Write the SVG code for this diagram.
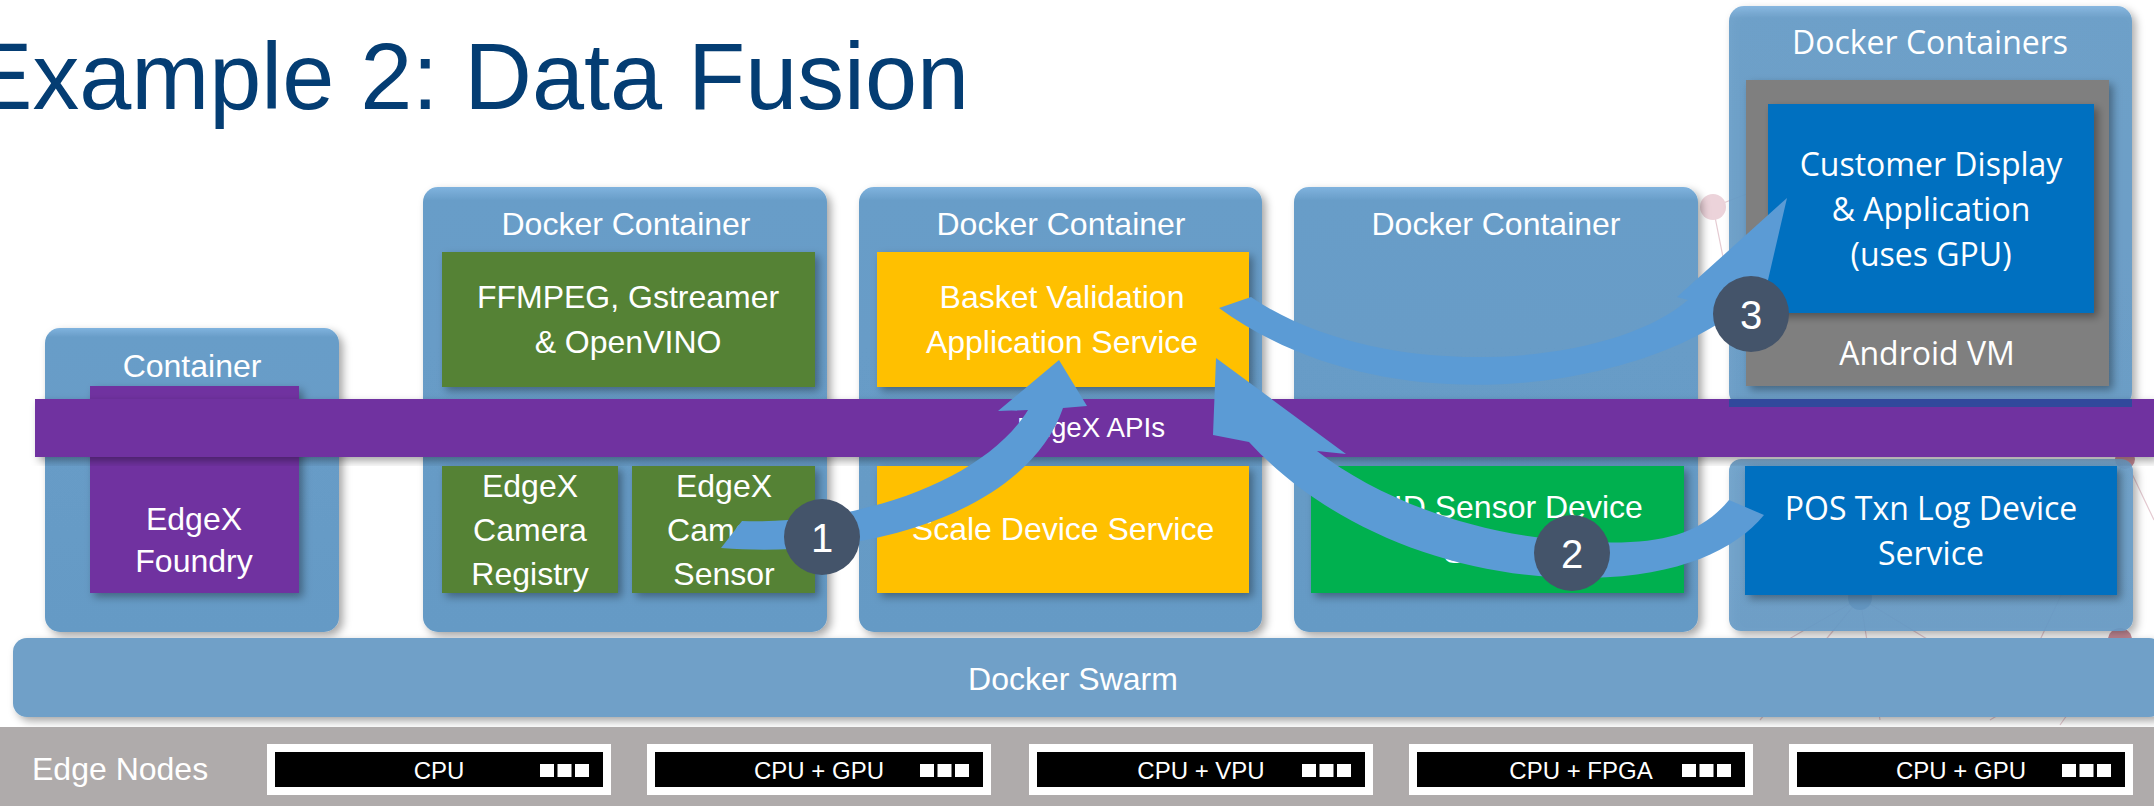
<svg xmlns="http://www.w3.org/2000/svg" width="2154" height="806" viewBox="0 0 2154 806">
<defs>
<filter id="sh" x="-10%" y="-10%" width="125%" height="125%">
<feDropShadow dx="4" dy="4" stdDeviation="4" flood-color="#000" flood-opacity="0.35"/>
</filter>
<linearGradient id="cg" x1="0" y1="0" x2="0" y2="1">
<stop offset="0" stop-color="#80b3de"/>
<stop offset="0.03" stop-color="#689dc8"/>
<stop offset="1" stop-color="#659ac5"/>
</linearGradient>
<style>
.cont{fill:url(#cg);filter:url(#sh)}
.box{filter:url(#sh)}
.t{font-family:"Liberation Sans",Arial,sans-serif;font-size:32px;fill:#fff;text-anchor:middle}
.o{font-family:"Open Sans","Liberation Sans",sans-serif;font-size:32px;fill:#fff;text-anchor:middle}
.n{font-family:"Liberation Sans",Arial,sans-serif;font-size:24px;fill:#fff;text-anchor:middle}
.arrow{fill:#5b9bd5}
.num{fill:#44546a}
.nt{font-family:"Liberation Sans",Arial,sans-serif;font-size:40px;fill:#fff;text-anchor:middle}
.sq{fill:#fff}
.net{stroke:#d8b3bd;stroke-width:1.2;fill:none;opacity:0.7}
</style>
</defs>
<rect width="2154" height="806" fill="#fff"/>

<g id="background-network">
<path class="net" d="M1713,207 L1762,188 M1713,207 L1724,262 M1860,598 L1770,650 M1860,598 L1790,470 M1860,598 L1945,650 M1860,598 L2010,470 M1860,598 L1880,720 M2120,640 L2060,725 M2120,640 L2154,700 M2125,459 L2154,520 M2125,459 L2040,640 M1990,720 L2120,640 M1760,720 L1860,598"/>
<circle cx="1713" cy="207" r="13" fill="#ecd3da"/>
<circle cx="1860" cy="598" r="12" fill="#4b6ea0"/>
<circle cx="2120" cy="640" r="12" fill="#c98c99"/>
<circle cx="2125" cy="459" r="10" fill="#c98c99"/>
</g>

<text x="-30" y="109" font-family="Liberation Sans, Arial, sans-serif" font-size="94" fill="#043d73" textLength="999" lengthAdjust="spacingAndGlyphs">Example 2: Data Fusion</text>

<g id="container-edgex">
<rect class="cont" x="45" y="328" width="294" height="304" rx="15"/>
<text class="t" x="192" y="377">Container</text>
</g>
<g id="docker-container-1">
<rect class="cont" x="423" y="187" width="404" height="445" rx="15"/>
<text class="t" x="626" y="235">Docker Container</text>
</g>
<g id="docker-container-2">
<rect class="cont" x="859" y="187" width="403" height="445" rx="15"/>
<text class="t" x="1061" y="235">Docker Container</text>
</g>
<g id="docker-container-3">
<rect class="cont" x="1294" y="187" width="404" height="445" rx="15"/>
<text class="t" x="1496" y="235">Docker Container</text>
</g>
<g id="docker-containers">
<rect class="cont" x="1729" y="6" width="403" height="401" rx="15" fill-opacity="0.93"/>
<text class="o" x="1930" y="54" font-size="31.5">Docker Containers</text>
</g>
<g id="pos-container">
<rect class="cont" x="1729" y="459" width="404" height="172" rx="12" fill-opacity="0.9"/>
</g>

<g id="edgex-foundry">
<rect x="90" y="386" width="209" height="207" fill="#7030a0" class="box"/>
<text class="t" x="194" y="530">EdgeX</text>
<text class="t" x="194" y="572">Foundry</text>
</g>
<g id="ffmpeg">
<rect x="442" y="252" width="373" height="135" fill="#548235" class="box"/>
<text class="t" x="628" y="308">FFMPEG, Gstreamer</text>
<text class="t" x="628" y="353">&amp; OpenVINO</text>
</g>
<g id="basket-validation">
<rect x="877" y="252" width="372" height="135" fill="#ffc000" class="box"/>
<text class="t" x="1062" y="308">Basket Validation</text>
<text class="t" x="1062" y="353">Application Service</text>
</g>
<g id="android-vm">
<rect x="1746" y="80" width="363" height="306" fill="#7f7f7f" class="box"/>
<text class="o" x="1927" y="365">Android VM</text>
</g>
<g id="customer-display">
<rect x="1768" y="104" width="326" height="209" fill="#0070c0" class="box"/>
<text class="o" x="1931" y="176">Customer Display</text>
<text class="o" x="1931" y="221">&amp; Application</text>
<text class="o" x="1931" y="266">(uses GPU)</text>
</g>

<g id="edgex-apis">
<rect x="35" y="399" width="2119" height="58" fill="#7030a0" class="box"/>
<rect x="1729" y="399" width="403" height="8" fill="#31499c"/>
<text x="1017" y="437" font-family="Liberation Sans, Arial, sans-serif" font-size="28" fill="#fff" textLength="148" lengthAdjust="spacingAndGlyphs">EdgeX APIs</text>
</g>

<g id="camera-registry">
<rect x="442" y="466" width="176" height="127" fill="#548235" class="box"/>
<text class="t" x="530" y="497">EdgeX</text>
<text class="t" x="530" y="541">Camera</text>
<text class="t" x="530" y="585">Registry</text>
</g>
<g id="camera-sensor">
<rect x="632" y="466" width="183" height="127" fill="#548235" class="box"/>
<text class="t" x="724" y="497">EdgeX</text>
<text class="t" x="724" y="541">Camera</text>
<text class="t" x="724" y="585">Sensor</text>
</g>
<g id="scale-device">
<rect x="877" y="466" width="372" height="127" fill="#ffc000" class="box"/>
<text class="t" x="1063" y="540">Scale Device Service</text>
</g>
<g id="rfid-device">
<rect x="1311" y="466" width="373" height="127" fill="#00b050" class="box"/>
<text class="t" x="1497" y="518">RFID Sensor Device</text>
<text class="t" x="1497" y="563">Service</text>
</g>
<g id="pos-device">
<rect x="1745" y="466" width="372" height="129" fill="#0070c0" class="box"/>
<text class="o" x="1931" y="520">POS Txn Log Device</text>
<text class="o" x="1931" y="565">Service</text>
</g>

<g id="connectors">
<path class="arrow" d="M721,548 L742,521 C860,525 985,480 1028,410 L998,411 L1059,360 L1087,406 L1063,408 C1030,505 880,560 721,548 Z"/>
<path class="arrow" d="M1216,358 L1213,435 L1249,442 C1330,530 1460,580 1590,578 C1680,576 1735,550 1764,515 L1729,500 C1700,535 1660,545 1590,542 C1480,538 1380,500 1317,451 L1346,454 Z"/>
<path class="arrow" d="M1787,198 L1768,280 L1748,300 C1672,378 1400,440 1219,308 L1251,297 C1380,385 1610,368 1688,300 L1677,297 Z"/>
<g id="step1"><circle class="num" cx="822" cy="537" r="38"/><text class="nt" x="822" y="552">1</text></g>
<g id="step2"><circle class="num" cx="1572" cy="553" r="38"/><text class="nt" x="1572" y="568">2</text></g>
<g id="step3"><circle class="num" cx="1751" cy="314" r="38"/><text class="nt" x="1751" y="329">3</text></g>
</g>

<g id="docker-swarm">
<rect x="13" y="638" width="2150" height="79" rx="14" fill="#6fa0c8" class="box"/>
<text class="t" x="1073" y="690" font-size="34">Docker Swarm</text>
</g>

<g id="edge-nodes">
<rect x="0" y="727" width="2154" height="79" fill="#afabab"/>
<text class="t" x="32" y="780" style="text-anchor:start">Edge Nodes</text>
</g>
<g id="node-cpu">
<rect x="267" y="744" width="344" height="51" fill="#fff"/>
<rect x="275" y="752" width="328" height="35" fill="#000"/>
<text class="n" x="439" y="779">CPU</text>
<rect class="sq" x="540" y="764" width="14" height="13"/><rect class="sq" x="557.5" y="764" width="14" height="13"/><rect class="sq" x="575" y="764" width="14" height="13"/>
</g>
<g id="node-cpu-gpu">
<rect x="647" y="744" width="344" height="51" fill="#fff"/>
<rect x="655" y="752" width="328" height="35" fill="#000"/>
<text class="n" x="819" y="779">CPU + GPU</text>
<rect class="sq" x="920" y="764" width="14" height="13"/><rect class="sq" x="937.5" y="764" width="14" height="13"/><rect class="sq" x="955" y="764" width="14" height="13"/>
</g>
<g id="node-cpu-vpu">
<rect x="1029" y="744" width="344" height="51" fill="#fff"/>
<rect x="1037" y="752" width="328" height="35" fill="#000"/>
<text class="n" x="1201" y="779">CPU + VPU</text>
<rect class="sq" x="1302" y="764" width="14" height="13"/><rect class="sq" x="1319.5" y="764" width="14" height="13"/><rect class="sq" x="1337" y="764" width="14" height="13"/>
</g>
<g id="node-cpu-fpga">
<rect x="1409" y="744" width="344" height="51" fill="#fff"/>
<rect x="1417" y="752" width="328" height="35" fill="#000"/>
<text class="n" x="1581" y="779">CPU + FPGA</text>
<rect class="sq" x="1682" y="764" width="14" height="13"/><rect class="sq" x="1699.5" y="764" width="14" height="13"/><rect class="sq" x="1717" y="764" width="14" height="13"/>
</g>
<g id="node-cpu-gpu-2">
<rect x="1789" y="744" width="344" height="51" fill="#fff"/>
<rect x="1797" y="752" width="328" height="35" fill="#000"/>
<text class="n" x="1961" y="779">CPU + GPU</text>
<rect class="sq" x="2062" y="764" width="14" height="13"/><rect class="sq" x="2079.5" y="764" width="14" height="13"/><rect class="sq" x="2097" y="764" width="14" height="13"/>
</g>
</svg>
